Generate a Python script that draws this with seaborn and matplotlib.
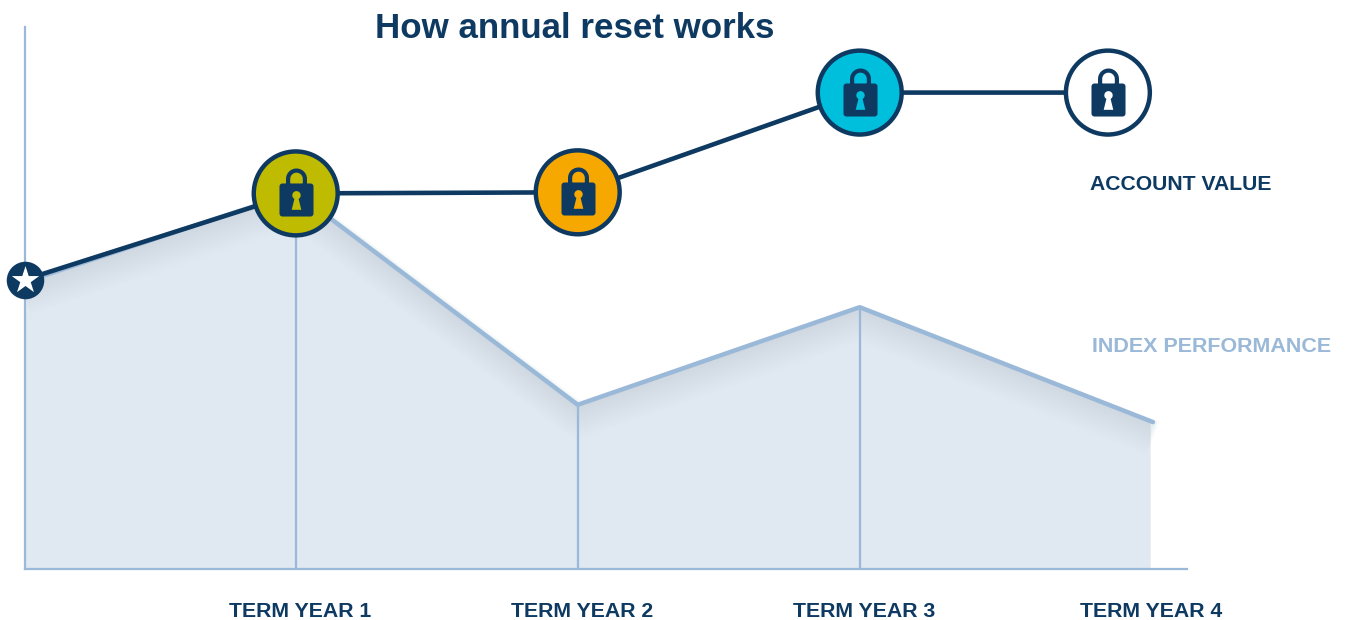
import numpy as np
import pandas as pd
import seaborn as sns
import matplotlib.pyplot as plt
from matplotlib.path import Path

term_labels = ["TERM YEAR 1", "TERM YEAR 2", "TERM YEAR 3", "TERM YEAR 4"]
label_pos = [0.975, 1.975, 2.975, 3.995]

index_x = [0, 0.96, 1.96, 2.96, 4.0]
index_y = [53.0, 69.5, 30.3, 48.3, 27.1]

account_x = [0, 0.96, 1.96, 2.96, 3.84]
account_y = [53.4, 69.3, 69.5, 87.9, 87.9]

lock_colors = ["#BFBB00", "#F7A800", "#00BFDD", "#FFFFFF"]

navy = "#0E3A62"
light = "#9AB8D8"
fill = "#E0E8F1"


def arc(cx, cy, r, a0, a1, n=24):
    t = np.radians(np.linspace(a0, a1, n))
    return np.column_stack([cx + r * np.cos(t), cy + r * np.sin(t)])


def lock_marker():
    # body, shackle and a keyhole cut out so the circle colour shows through
    body = np.vstack([arc(14, -20, 3, -90, 0), arc(14, 7, 3, 0, 90),
                      arc(-14, 7, 3, 90, 180), arc(-14, -20, 3, 180, 270)])
    shackle = np.vstack([[[10.5, 6]], arc(0, 14.5, 10.5, 0, 180), [[-10.5, 6]],
                         [[-6.3, 6]], arc(0, 14.5, 6.3, 180, 0), [[6.3, 6]]])
    hole = np.vstack([[[4.8, -16.3]], arc(0, -1.8, 4.2, -60, 240), [[-4.8, -16.3]]])[::-1]
    parts = [body, shackle, hole]
    paths = [Path(np.vstack([p, p[:1]]), closed=True) for p in parts]
    return Path.make_compound_path(*paths)


sns.set_theme(style="white")
plt.rcParams["font.family"] = ["Liberation Sans", "DejaVu Sans"]

index_df = pd.DataFrame({"x": index_x, "y": index_y})
account_df = pd.DataFrame({"x": account_x, "y": account_y})
locks_df = pd.DataFrame({"x": account_x[1:], "y": account_y[1:], "c": lock_colors})

W, H = 1347, 620
fig = plt.figure(figsize=(W / 100, H / 100), dpi=100)
ax = fig.add_axes([25 / W, 1 - 569 / H, 1162 / W, 542 / H])
ax.set_xlim(0, 1162 / 282)
ax.set_ylim(0, 100)

# area under the index line
ax.fill_between(index_x[:-1] + [3.99], index_y[:-1] + [27.5], 0, color=fill, lw=0, zorder=1)

# soft shadow under the index line, stacked so it fades downward
for w in np.arange(3, 27, 1.5):
    sns.lineplot(x=index_df["x"], y=index_df["y"] - 0.115 * w, ax=ax, color="#A9C0DA", lw=w,
                 alpha=0.014, solid_capstyle="butt", zorder=1.5, errorbar=None)

ax.vlines(index_x[1:4], 0, index_y[1:4], color=light, lw=1.6, zorder=2)

sns.lineplot(data=index_df, x="x", y="y", ax=ax, color=light, lw=3.2, zorder=3,
             solid_capstyle="round", errorbar=None)
sns.lineplot(data=account_df, x="x", y="y", ax=ax, color=navy, lw=3.3, zorder=4,
             solid_capstyle="butt", errorbar=None)

# start marker
sns.scatterplot(x=account_x[:1], y=account_y[:1], ax=ax, s=730, color=navy, lw=0,
                zorder=5, clip_on=False)
sns.scatterplot(x=account_x[:1], y=account_y[:1], ax=ax, s=430, marker="*", color="white",
                lw=0, zorder=6, clip_on=False)

# lock circles
sns.scatterplot(data=locks_df, x="x", y="y", hue="c", palette=dict(zip(lock_colors, lock_colors)),
                ax=ax, s=3650, edgecolor=navy, linewidth=3.2, legend=False, zorder=5, clip_on=False)
sns.scatterplot(data=locks_df, x="x", y="y", ax=ax, s=1296, marker=lock_marker(), color=navy,
                lw=0, zorder=6, clip_on=False)

for side in ["top", "right"]:
    ax.spines[side].set_visible(False)
for side in ["left", "bottom"]:
    ax.spines[side].set_color(light)
    ax.spines[side].set_linewidth(1.6)
ax.set_yticks([])
ax.set_xticks(label_pos)
ax.set_xticklabels(term_labels, fontsize=15.3, fontweight="bold", color=navy)
ax.tick_params(axis="x", length=0, pad=23.5)
ax.set_xlabel("")
ax.set_ylabel("")
ax.patch.set_alpha(0)

fig.text(575 / W, 1 - 28.5 / H, "How annual reset works", fontsize=25.1, fontweight="bold",
         color=navy, ha="center", va="center")
fig.text(1090 / W, 1 - 184 / H, "ACCOUNT VALUE", fontsize=15.25, fontweight="bold",
         color=navy, ha="left", va="center")
fig.text(1092 / W, 1 - 346 / H, "INDEX PERFORMANCE", fontsize=15.45, fontweight="bold",
         color=light, ha="left", va="center")

fig.savefig("out.png", dpi=100)
